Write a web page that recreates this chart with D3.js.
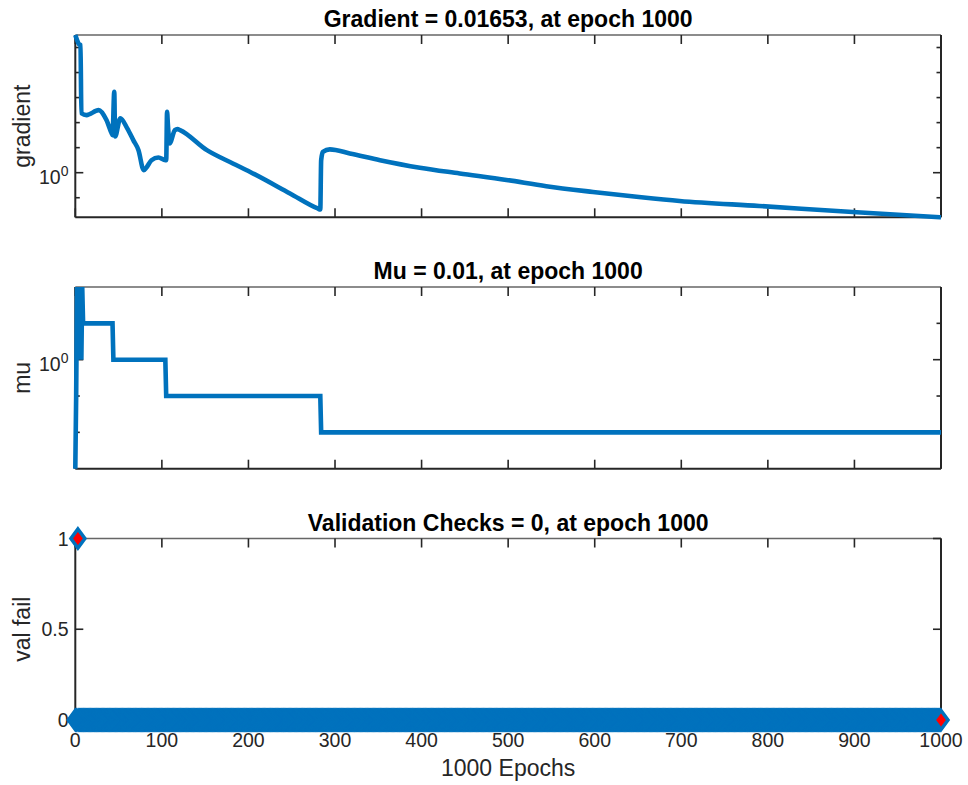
<!DOCTYPE html>
<html>
<head>
<meta charset="utf-8">
<script src="https://cdn.jsdelivr.net/npm/d3@7"></script>
<style>
  body { margin: 0; background: #fff; }
  svg { display: block; }
  text { font-family: "Liberation Sans", Arial, Helvetica, sans-serif; fill: #262626; }
</style>
</head>
<body>
<svg id="chart" width="968" height="785"></svg>
<script>
// ---- data ----
const epochTicks = [0, 100, 200, 300, 400, 500, 600, 700, 800, 900, 1000];

// gradient per epoch (read at the epochs where the curve changes shape)
const gradEpochs = [0, 2, 4, 6, 7, 13, 27, 36, 42, 43, 45, 46, 52, 60, 67, 73, 79, 82, 88, 96, 104,
  105, 106, 107, 109, 115, 118, 121, 152, 182, 202, 248, 280, 283, 284, 286, 294, 317, 352,
  398, 444, 498, 544, 598, 651, 698, 790, 898, 1000];
const gradValues = [316000, 200000, 138000, 126000, 240, 200, 316, 126, 37.2, 31.6, 1700, 28.2, 148,
  58.9, 20, 7.94, 1.26, 1.58, 3.16, 4.07, 3.16,
  3.16, 269, 79.4, 14.8, 50.1, 55, 50.1, 7.94, 2.34, 1.07, 0.148, 0.0372, 0.0339, 3.16, 6.76,
  8.51, 5.89, 3.16,
  1.58, 0.933, 0.513, 0.288, 0.17, 0.107, 0.0741, 0.0468, 0.0269, 0.01653];

// mu per epoch (values at the epochs where it changes)
const muEpochs = [0, 1, 2, 3, 4, 5, 6, 7, 8, 9, 43, 44, 104, 105, 283, 284, 1000];
const muValues = [0.001, 0.1, 100, 10, 100, 1, 100, 1, 100, 10, 10, 1, 1, 0.1, 0.1, 0.01, 0.01];

// validation failures: zero at every epoch except these
const valFailEpochs = d3.range(0, 1001);
const valFailOnes = [3];
const valFailValues = valFailEpochs.map(e => (valFailOnes.includes(e) ? 1 : 0));

const titles = [
  "Gradient = 0.01653, at epoch 1000",
  "Mu = 0.01, at epoch 1000",
  "Validation Checks = 0, at epoch 1000"
];
const yLabels = ["gradient", "mu", "val fail"];
const xLabel = "1000 Epochs";

// ---- layout ----
const svg = d3.select("#chart");
const X0 = 75.3, X1 = 941;
const panels = [
  { top: 35, bottom: 217.3 },
  { top: 287, bottom: 468.7 },
  { top: 538.5, bottom: 720 }
];
const BLUE = "#0072BD";
const AX = "#262626";
const TICK_FS = 19.5, LABEL_FS = 23, TITLE_FS = 23;
const LINE_W = 4.6;

const x = d3.scaleLinear().domain([0, 1000]).range([X0, X1]);

const yGrad = d3.scaleLog()
  .domain([d3.min(gradValues), d3.max(gradValues)])
  .range([panels[0].bottom, panels[0].top]);
const yMu = d3.scaleLog()
  .domain([0.001, 100])
  .range([panels[1].bottom, panels[1].top]);
const yVal = d3.scaleLinear()
  .domain([0, 1])
  .range([panels[2].bottom, panels[2].top]);

const xTickLen = 9, yMajorLen = 8, yMinorLen = 4.5;

function drawFrame(p, i) {
  const g = svg.append("g");
  // box
  g.append("line").attr("x1", X0).attr("x2", X1).attr("y1", p.top).attr("y2", p.top)
    .attr("stroke", "#666").attr("stroke-width", 1.3);
  g.append("line").attr("x1", X0).attr("x2", X1).attr("y1", p.bottom).attr("y2", p.bottom)
    .attr("stroke", AX).attr("stroke-width", 2);
  g.append("line").attr("x1", X0).attr("x2", X0).attr("y1", p.top).attr("y2", p.bottom)
    .attr("stroke", AX).attr("stroke-width", 2);
  g.append("line").attr("x1", X1).attr("x2", X1).attr("y1", p.top).attr("y2", p.bottom)
    .attr("stroke", AX).attr("stroke-width", 2);
  // x ticks (inward, bottom and top)
  epochTicks.forEach(t => {
    const xx = x(t);
    g.append("line").attr("x1", xx).attr("x2", xx).attr("y1", p.bottom).attr("y2", p.bottom - xTickLen)
      .attr("stroke", AX).attr("stroke-width", 1.6);
    g.append("line").attr("x1", xx).attr("x2", xx).attr("y1", p.top).attr("y2", p.top + xTickLen)
      .attr("stroke", AX).attr("stroke-width", 1.6);
  });
  // title
  svg.append("text").attr("x", (X0 + X1) / 2).attr("y", p.top - 8)
    .attr("text-anchor", "middle").attr("font-size", TITLE_FS).attr("font-weight", "bold")
    .style("fill", "#000").text(titles[i]);
  // y label
  svg.append("text")
    .attr("transform", `translate(30,${(p.top + p.bottom) / 2}) rotate(-90)`)
    .attr("text-anchor", "middle").attr("font-size", LABEL_FS).text(yLabels[i]);
  return g;
}

function yTick(g, yy, len) {
  g.append("line").attr("x1", X0).attr("x2", X0 + len).attr("y1", yy).attr("y2", yy)
    .attr("stroke", AX).attr("stroke-width", 1.6);
  g.append("line").attr("x1", X1).attr("x2", X1 - len).attr("y1", yy).attr("y2", yy)
    .attr("stroke", AX).attr("stroke-width", 1.6);
}

function powerLabel(yy, exp) {
  const t = svg.append("text").attr("x", 68.5).attr("y", yy + 11.5)
    .attr("text-anchor", "end").attr("font-size", TICK_FS);
  t.append("tspan").text("10");
  t.append("tspan").attr("dy", -8.5).attr("font-size", 14).text(exp);
}

// ---- panel 1: gradient ----
const g1 = drawFrame(panels[0], 0);
[0.1, 10, 100, 1000, 10000, 100000].forEach(v => yTick(g1, yGrad(v), yMinorLen));
yTick(g1, yGrad(1), yMajorLen);
powerLabel(yGrad(1), "0");

svg.append("path")
  .datum(gradEpochs.map((e, k) => [e, gradValues[k]]))
  .attr("fill", "none").attr("stroke", BLUE).attr("stroke-width", LINE_W)
  .attr("stroke-linejoin", "round").attr("stroke-linecap", "butt")
  .attr("d", d3.line().x(d => x(d[0])).y(d => yGrad(d[1])).curve(d3.curveMonotoneX));

// ---- panel 2: mu ----
const g2 = drawFrame(panels[1], 1);
[0.01, 0.1, 10].forEach(v => yTick(g2, yMu(v), yMinorLen));
yTick(g2, yMu(1), yMajorLen);
powerLabel(yMu(1), "0");

svg.append("path")
  .datum(muEpochs.map((e, k) => [e, muValues[k]]))
  .attr("fill", "none").attr("stroke", BLUE).attr("stroke-width", LINE_W)
  .attr("stroke-linejoin", "miter").attr("stroke-linecap", "butt")
  .attr("d", d3.line().x(d => x(d[0])).y(d => yMu(d[1])));

// ---- panel 3: validation checks ----
const g3 = drawFrame(panels[2], 2);
[0, 0.5, 1].forEach(v => {
  yTick(g3, yVal(v), yMajorLen);
  svg.append("text").attr("x", 68.5).attr("y", yVal(v) + 7)
    .attr("text-anchor", "end").attr("font-size", TICK_FS).text(d3.format("~g")(v));
});

// x tick labels and axis label (bottom panel only)
epochTicks.forEach(t => {
  svg.append("text").attr("x", x(t)).attr("y", 747)
    .attr("text-anchor", "middle").attr("font-size", TICK_FS).text(t);
});
svg.append("text").attr("x", (X0 + X1) / 2).attr("y", 776)
  .attr("text-anchor", "middle").attr("font-size", LABEL_FS).text(xLabel);

// diamond markers, drawn in epoch order
const a = 7, b = 9.5;
const diamond = `M0,${-b}L${a},0L0,${b}L${-a},0Z`;
svg.append("g").selectAll("path")
  .data(valFailEpochs.map((e, k) => [e, valFailValues[k]]))
  .join("path")
  .attr("transform", d => `translate(${x(d[0])},${yVal(d[1])})`)
  .attr("d", diamond)
  .attr("fill", "#FF0000")
  .attr("stroke", BLUE)
  .attr("stroke-width", 3.5)
  .attr("stroke-linejoin", "miter");
</script>
</body>
</html>
